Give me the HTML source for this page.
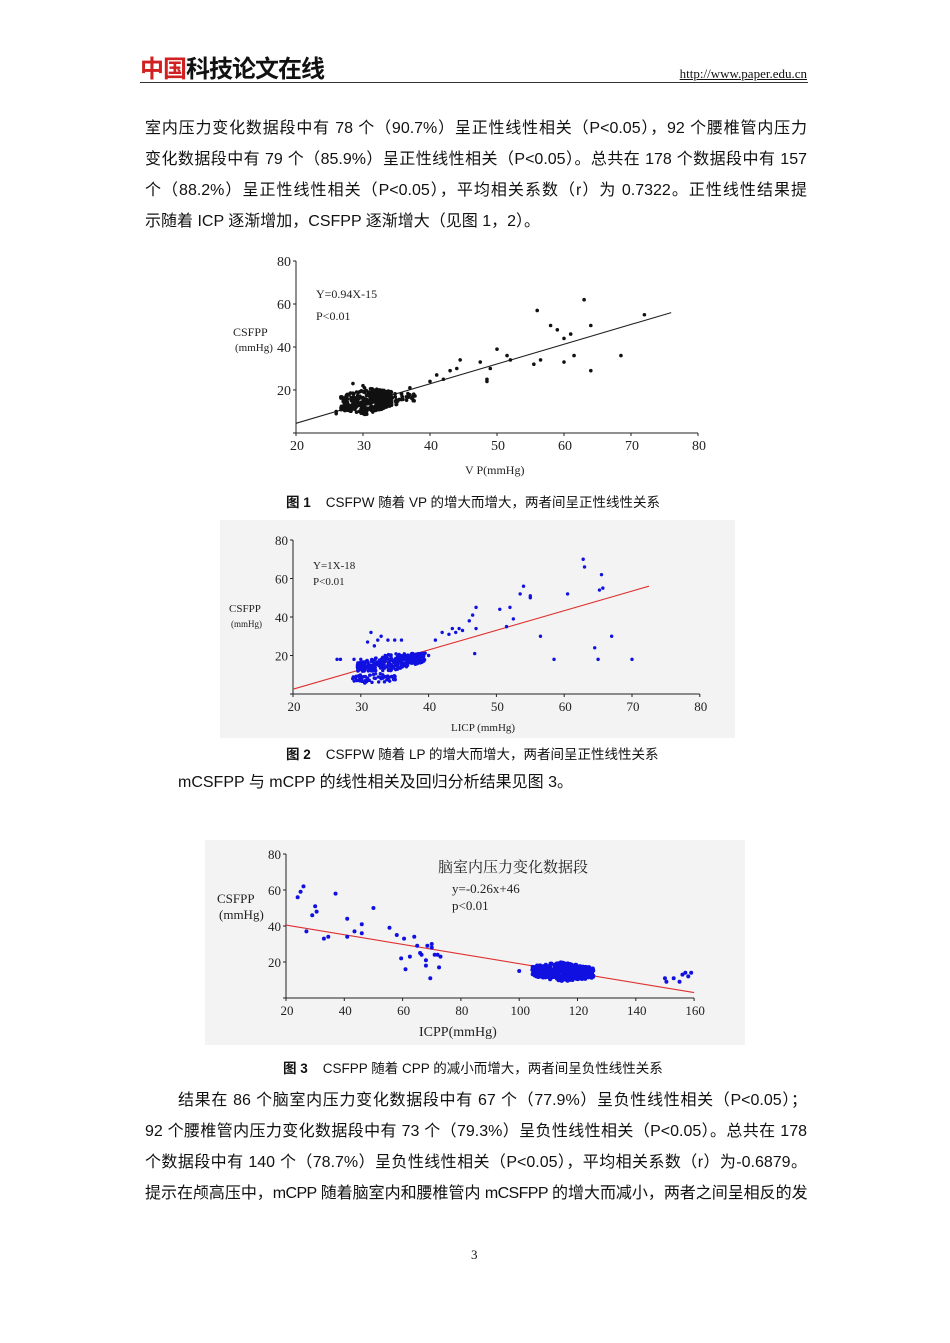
<!DOCTYPE html>
<html><head><meta charset="utf-8"><style>
body{margin:0;background:#fff;}
#pg{position:relative;width:950px;height:1343px;overflow:hidden;font-family:"Liberation Sans","Noto Sans CJK SC",sans-serif;color:#111;}
.ln{position:absolute;left:145px;width:662px;font-size:16px;line-height:20px;white-space:nowrap;text-align:justify;text-align-last:justify;}
.cap{position:absolute;font-size:13.5px;line-height:18px;white-space:nowrap;}
svg text{font-family:"Liberation Serif","Noto Serif CJK SC",serif;}
</style></head><body><div id="pg">
<div style="position:absolute;left:140px;top:53px;font:bold 24px 'Noto Sans CJK SC',sans-serif;letter-spacing:-1px;line-height:28px"><span style="color:#d02020">中国</span><span>科技论文在线</span></div>
<div style="position:absolute;right:143px;top:66px;font:13px 'Liberation Serif',serif;text-decoration:underline">http://www.paper.edu.cn</div>
<div style="position:absolute;left:140px;top:82px;width:668px;height:1px;background:#333"></div>
<div class="ln" style="top:119px">室内压力变化数据段中有 78 个（90.7%）呈正性线性相关（P&lt;0.05），92 个腰椎管内压力</div>
<div class="ln" style="top:150px">变化数据段中有 79 个（85.9%）呈正性线性相关（P&lt;0.05）。总共在 178 个数据段中有 157</div>
<div class="ln" style="top:181px">个（88.2%）呈正性线性相关（P&lt;0.05），平均相关系数（r）为 0.7322。正性线性结果提</div>
<div class="ln" style="top:212px;text-align-last:left">示随着 ICP 逐渐增加，CSFPP 逐渐增大（见图 1，2）。</div>

<svg style="position:absolute;left:0;top:0" width="950" height="1343" id="sv">
<rect x="220" y="520" width="515" height="218" fill="#f3f3f3"/>
<rect x="205" y="840" width="540" height="205" fill="#f3f3f3"/>
<g id="c1"></g><g id="c2"></g><g id="c3"></g>
</svg>

<div class="cap" style="left:286px;top:494px"><b>图 1</b>&nbsp;&nbsp;&nbsp; CSFPW 随着 VP 的增大而增大，两者间呈正性线性关系</div>
<div class="cap" style="left:286px;top:746px"><b>图 2</b>&nbsp;&nbsp;&nbsp; CSFPW 随着 LP 的增大而增大，两者间呈正性线性关系</div>
<div class="ln" style="top:773px;left:178px;text-align-last:left">mCSFPP 与 mCPP 的线性相关及回归分析结果见图 3。</div>
<div class="cap" style="left:283px;top:1060px"><b>图 3</b>&nbsp;&nbsp;&nbsp; CSFPP 随着 CPP 的减小而增大，两者间呈负性线性关系</div>
<div class="ln" style="top:1091px;left:178px;width:629px">结果在 86 个脑室内压力变化数据段中有 67 个（77.9%）呈负性线性相关（P&lt;0.05）；</div>
<div class="ln" style="top:1122px">92 个腰椎管内压力变化数据段中有 73 个（79.3%）呈负性线性相关（P&lt;0.05）。总共在 178</div>
<div class="ln" style="top:1153px">个数据段中有 140 个（78.7%）呈负性线性相关（P&lt;0.05），平均相关系数（r）为-0.6879。</div>
<div class="ln" style="top:1184px;letter-spacing:-0.6px">提示在颅高压中，mCPP 随着脑室内和腰椎管内 mCSFPP 的增大而减小，两者之间呈相反的发</div>
<div style="position:absolute;left:471px;top:1247px;font:13px 'Liberation Serif',serif">3</div>
</div>
<script>
var s=7;function r(){s=(s*16807)%2147483647;return s/2147483647;}
function g(){return (r()+r()+r()-1.5)/1.5;}
var NS="http://www.w3.org/2000/svg";
function el(p,t,a,tx){var e=document.createElementNS(NS,t);for(var k in a)e.setAttribute(k,a[k]);if(tx)e.textContent=tx;p.appendChild(e);return e;}
function chart(id,o){
 var G=document.getElementById(id);
 var X=function(v){return o.ox+(v-o.x0)*o.sx;},Y=function(v){return o.oy-v*o.sy;};
 el(G,'line',{x1:o.ox,y1:o.oy,x2:X(o.x1),y2:o.oy,stroke:'#222','stroke-width':1});
 el(G,'line',{x1:o.ox,y1:o.oy,x2:o.ox,y2:Y(80),stroke:'#222','stroke-width':1});
 for(var v=0;v<=80;v+=20){el(G,'line',{x1:o.ox-3,y1:Y(v),x2:o.ox,y2:Y(v),stroke:'#222'});el(G,'text',{x:o.ox-5,y:Y(v)+5,'text-anchor':'end','font-size':o.fs,fill:'#222'},v);}
 for(var v=o.x0;v<=o.x1;v+=o.dx){el(G,'line',{x1:X(v),y1:o.oy,x2:X(v),y2:o.oy+3,stroke:'#222'});el(G,'text',{x:X(v)+1,y:o.oy+17,'text-anchor':'middle','font-size':o.fs,fill:'#222'},v);}
 el(G,'line',{x1:X(o.l[0]),y1:Y(o.l[1]),x2:X(o.l[2]),y2:Y(o.l[3]),stroke:o.lc,'stroke-width':1.1});
 o.pts.forEach(function(p){el(G,'circle',{cx:X(p[0]),cy:Y(p[1]),r:o.r,fill:o.c});});
 o.txt.forEach(function(t){el(G,'text',{x:t[0],y:t[1],'font-size':t[3]||o.fs,fill:'#222'},t[2]);});
}
function cluster(cx,cy,wx,wy,n,slope){var a=[];for(var i=0;i<n;i++){var dx=(r()-0.5)*2*wx;a.push([cx+dx,cy+dx*(slope||0)+(r()-0.5)*2*wy*(1-Math.abs(dx)/wx*0.5)]);}return a;}
// chart1
var p1=cluster(30.5,15,3.8,6.5,360,0.25).concat(cluster(35.5,16,2.5,3,40,0.3)).concat([[26,9],[26,10],[28.5,23],[30,22],[37,21],[37.5,15],[40,24],[41,27],[42,25],[43,29],[44,30],[44.5,34],[47.5,33],[48.5,24],[48.5,25],[49,30],[50,39],[51.5,36],[52,34],[56,57],[56.5,34],[58,50],[59,48],[60,44],[61,46],[61.5,36],[63,62],[64,50],[68.5,36],[72,55],[64,29],[60,33],[55.5,32]]);
chart('c1',{ox:296,oy:433,sx:6.7,sy:2.15,x0:20,x1:80,dx:10,fs:14,l:[20,4.5,76,56],lc:'#222',c:'#111',r:1.8,pts:p1,
 txt:[[316,298,'Y=0.94X-15',12],[316,320,'P<0.01',12],[233,336,'CSFPP',12],[235,351,'(mmHg)',11],[465,474,'V P(mmHg)',12]]});
// chart2
var p2=cluster(34.5,16.5,5,4.5,320,0.5).concat(cluster(32,8,3.2,3,70,0)).concat([[26.5,18],[27,18],[29,18],[30,18],[31,27],[31.5,32],[32,25],[32.5,28],[33,30],[34,28],[35,28],[36,28],[38,20],[40,20],[41,28],[42,32],[43,31],[43.5,34],[44,32],[44.5,34],[45,33],[46,38],[46.5,41],[47,45],[47,34],[46.8,21],[50.5,44],[51.5,35],[52,45],[52.5,39],[53.5,52],[54,56],[55,50],[55,51],[56.5,30],[58.5,18],[60.5,52],[62.8,70],[63,66],[64.5,24],[65,18],[65.2,54],[65.5,62],[65.7,55],[67,30],[70,18]]);
chart('c2',{ox:293,oy:694,sx:6.78,sy:1.925,x0:20,x1:80,dx:10,fs:13,l:[20,2.5,72.5,56],lc:'#e03030',c:'#1010e0',r:1.7,pts:p2,
 txt:[[313,569,'Y=1X-18',11],[313,585,'P<0.01',11],[229,612,'CSFPP',11],[231,627,'(mmHg)',9],[451,731,'LICP (mmHg)',11]]});
// chart3
var p3=cluster(115,14.5,10.5,5.5,420,-0.05).concat([[24,56],[25,59],[26,62],[27,37],[29,46],[30,51],[30.5,48],[33,33],[34.5,34],[37,58],[41,44],[41,34],[43.5,37],[46,41],[46,36],[50,50],[55.5,39],[58,35],[59.5,22],[60.5,33],[61,16],[62.5,23],[64,34],[65,29],[66,25],[66.5,24],[68,21],[68,18],[68.5,29],[69.5,11],[70,28],[70,30],[71,24],[72,24],[72.5,17],[73,23],[100,15],[150,11],[150.5,9],[153,11],[155,9],[156,13],[157,14],[158,12],[159,14]]);
chart('c3',{ox:286,oy:998,sx:2.915,sy:1.8,x0:20,x1:160,dx:20,fs:13,l:[20,40.5,160,3],lc:'#e03030',c:'#1010e0',r:2,pts:p3,
 txt:[[438,872,'脑室内压力变化数据段',15],[452,893,'y=-0.26x+46',13],[452,910,'p<0.01',13],[217,903,'CSFPP',13],[219,919,'(mmHg)',13],[419,1036,'ICPP(mmHg)',14]]});
</script>
</body></html>
